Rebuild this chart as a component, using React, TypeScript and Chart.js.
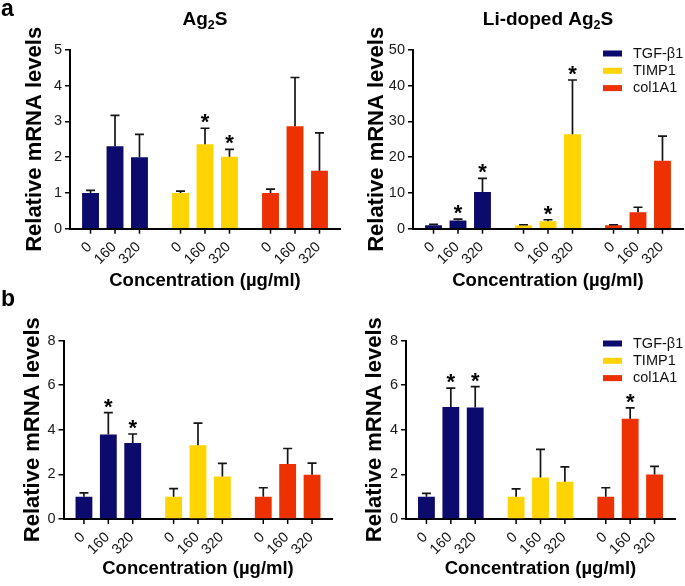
import React, { useEffect, useRef } from "react";
import { Chart, registerables } from "chart.js";

Chart.register(...registerables);

const FONT = "'Liberation Sans', Arial, Helvetica, sans-serif";
Chart.defaults.font.family = FONT;

// ---- shared categories ----
const genes = ["TGF-β1", "TIMP1", "col1A1"];
const concentrations = ["0", "160", "320"];
const geneColors = ["#0c0a6c", "#ffd400", "#ee3100"];
const xAxisTitle = "Concentration (µg/ml)";
const yAxisTitle = "Relative mRNA levels";

// ---- panel a, left: Ag2S (rows = genes, cols = concentrations) ----
const aAg2sMeans = [
  [1.0, 2.31, 2.0],
  [1.0, 2.36, 2.01],
  [1.0, 2.87, 1.62],
];
const aAg2sErrors = [
  [0.07, 0.86, 0.64],
  [0.05, 0.45, 0.21],
  [0.11, 1.36, 1.06],
];
const aAg2sSignificant = [
  [false, false, false],
  [false, true, true],
  [false, false, false],
];
const aAg2sYMax = 5;
const aAg2sYStep = 1;

// ---- panel a, right: Li-doped Ag2S ----
const aLiMeans = [
  [1.0, 2.3, 10.3],
  [1.0, 2.05, 26.4],
  [1.0, 4.6, 19.0],
];
const aLiErrors = [
  [0.2, 0.4, 3.8],
  [0.1, 0.45, 15.2],
  [0.1, 1.4, 6.9],
];
const aLiSignificant = [
  [false, true, true],
  [false, true, true],
  [false, false, false],
];
const aLiYMax = 50;
const aLiYStep = 10;

// ---- panel b, left ----
const bLeftMeans = [
  [1.0, 3.79, 3.41],
  [1.0, 3.3, 1.91],
  [1.0, 2.46, 1.98],
];
const bLeftErrors = [
  [0.17, 0.98, 0.4],
  [0.36, 1.0, 0.58],
  [0.4, 0.7, 0.52],
];
const bLeftSignificant = [
  [false, true, true],
  [false, false, false],
  [false, false, false],
];
const bLeftYMax = 8;
const bLeftYStep = 2;

// ---- panel b, right ----
const bRightMeans = [
  [1.0, 5.02, 5.0],
  [1.0, 1.86, 1.67],
  [1.0, 4.49, 2.0],
];
const bRightErrors = [
  [0.15, 0.85, 0.93],
  [0.35, 1.26, 0.67],
  [0.4, 0.49, 0.36],
];
const bRightSignificant = [
  [false, true, true],
  [false, false, false],
  [false, true, false],
];
const bRightYMax = 8;
const bRightYStep = 2;

type Frame = { left: number; top: number; width: number; height: number };
type Area = { left: number; right: number; top: number; bottom: number };

type PanelProps = {
  frame: Frame;
  area: Area;
  titleParts?: string[];
  letter?: string;
  showLegend?: boolean;
  means: number[][];
  errors: number[][];
  significant: boolean[][];
  yMax: number;
  yStep: number;
  yTitleCenter: number;
  xTitleBottom: number;
};

function Panel(props: PanelProps) {
  const ref = useRef<HTMLCanvasElement | null>(null);
  useEffect(() => {
    const {
      frame, area, titleParts, letter, showLegend, means, errors, significant,
      yMax, yStep, yTitleCenter, xTitleBottom,
    } = props;
    const canvas = ref.current;
    if (!canvas) return;

    const decorations = {
      id: "decorations",
      afterDatasetsDraw(chart: any) {
        const ctx = chart.ctx as CanvasRenderingContext2D;
        const yScale = chart.scales.y;
        const base = chart.chartArea.bottom;
        chart.data.datasets.forEach((ds: any, di: number) => {
          const meta = chart.getDatasetMeta(di);
          meta.data.forEach((bar: any, gi: number) => {
            const mean = ds.data[gi];
            const err = errors[gi][di];
            const yTop = yScale.getPixelForValue(mean + err);
            ctx.save();
            // error bar
            ctx.strokeStyle = "#151515";
            ctx.lineWidth = 1.7;
            ctx.beginPath();
            ctx.moveTo(bar.x, bar.y);
            ctx.lineTo(bar.x, yTop);
            ctx.moveTo(bar.x - 4.5, yTop);
            ctx.lineTo(bar.x + 4.5, yTop);
            ctx.stroke();
            // significance
            if (significant[gi][di]) {
              ctx.fillStyle = "#000";
              ctx.font = `bold 22px ${FONT}`;
              ctx.textAlign = "center";
              ctx.textBaseline = "alphabetic";
              ctx.fillText("*", bar.x, yTop + 1);
            }
            // x tick mark
            ctx.strokeStyle = "#000";
            ctx.lineWidth = 1.5;
            ctx.beginPath();
            ctx.moveTo(bar.x, base);
            ctx.lineTo(bar.x, base + 5);
            ctx.stroke();
            // rotated tick label
            ctx.translate(bar.x - 1, base + 16);
            ctx.rotate(-Math.PI / 4);
            ctx.font = `14.5px ${FONT}`;
            ctx.fillStyle = "#111";
            ctx.textAlign = "right";
            ctx.textBaseline = "middle";
            ctx.fillText(ds.label, 0, 0);
            ctx.restore();
          });
        });
      },
      afterDraw(chart: any) {
        const ctx = chart.ctx as CanvasRenderingContext2D;
        const ca = chart.chartArea;
        ctx.save();
        if (titleParts) {
          const mainFont = `bold 19px ${FONT}`;
          const subFont = `bold 12.5px ${FONT}`;
          let total = 0;
          const widths = titleParts.map((p, i) => {
            ctx.font = i % 2 === 1 ? subFont : mainFont;
            const w = ctx.measureText(p).width;
            total += w;
            return w;
          });
          let x = (ca.left + ca.right) / 2 - total / 2;
          ctx.fillStyle = "#000";
          ctx.textAlign = "left";
          ctx.textBaseline = "alphabetic";
          titleParts.forEach((p, i) => {
            const sub = i % 2 === 1;
            ctx.font = sub ? subFont : mainFont;
            ctx.fillText(p, x, sub ? 28.5 : 24.5);
            x += widths[i];
          });
        }
        if (letter) {
          ctx.font = `bold 23px ${FONT}`;
          ctx.fillStyle = "#000";
          ctx.textAlign = "left";
          ctx.textBaseline = "alphabetic";
          ctx.fillText(letter, 1, 15.5);
        }
        if (showLegend) {
          const lx = 261;
          const ly = 53.5;
          genes.forEach((g, i) => {
            const y = ly + i * 17.3;
            ctx.fillStyle = geneColors[i];
            ctx.fillRect(lx, y - 3, 19, 6);
            ctx.fillStyle = "#111";
            ctx.font = `14.5px ${FONT}`;
            ctx.textAlign = "left";
            ctx.textBaseline = "middle";
            ctx.fillText(g, lx + 30, y);
          });
        }
        ctx.restore();
      },
    };

    const chart = new Chart(canvas, {
      type: "bar",
      data: {
        labels: genes,
        datasets: concentrations.map((c, ci) => ({
          label: c,
          data: genes.map((_, gi) => means[gi][ci]),
          backgroundColor: geneColors,
          borderWidth: 0,
          barPercentage: 0.69,
          categoryPercentage: 0.816,
        })),
      },
      options: {
        responsive: false,
        animation: false,
        devicePixelRatio: 1,
        layout: {
          padding: {
            left: 0,
            top: area.top,
            right: frame.width - area.right,
            bottom: 0,
          },
        },
        plugins: {
          legend: { display: false },
          tooltip: { enabled: false },
          title: { display: false },
        },
        scales: {
          x: {
            type: "category",
            offset: true,
            grid: { display: false },
            ticks: { display: false },
            border: { display: true, color: "#000", width: 2 },
            title: {
              display: true,
              text: xAxisTitle,
              color: "#000",
              font: { size: 18.5, weight: "bold", family: FONT, lineHeight: 1 },
              padding: { top: 0, bottom: xTitleBottom },
            },
            afterFit: (s: any) => {
              s.height = frame.height - area.bottom;
            },
          },
          y: {
            min: 0,
            max: yMax,
            ticks: {
              stepSize: yStep,
              color: "#1a1a1a",
              font: { size: 14.5, family: FONT },
              padding: 3,
            },
            grid: {
              display: true,
              drawOnChartArea: false,
              drawTicks: true,
              tickLength: 5,
              color: "#000",
              lineWidth: 1.5,
            },
            border: { display: true, color: "#000", width: 2 },
            title: {
              display: true,
              text: yAxisTitle,
              color: "#000",
              font: { size: 22, weight: "bold", family: FONT, lineHeight: 1 },
              padding: { top: yTitleCenter - 11, bottom: 0 },
            },
            afterFit: (s: any) => {
              s.width = area.left;
            },
          },
        },
      },
      plugins: [decorations],
    } as any);
    return () => chart.destroy();
  }, []);

  const { frame } = props;
  return (
    <canvas
      ref={ref}
      width={frame.width}
      height={frame.height}
      style={{
        position: "absolute",
        left: frame.left,
        top: frame.top,
        width: frame.width,
        height: frame.height,
        display: "block",
      }}
    />
  );
}

export default function App() {
  return (
    <div
      style={{
        position: "absolute",
        left: 0,
        top: 0,
        width: 685,
        height: 586,
        background: "#fff",
        overflow: "hidden",
      }}
    >
      <Panel
        frame={{ left: 0, top: 0, width: 342, height: 290 }}
        area={{ left: 70, right: 340, top: 50, bottom: 228.7 }}
        titleParts={["Ag", "2", "S"]}
        letter="a"
        means={aAg2sMeans}
        errors={aAg2sErrors}
        significant={aAg2sSignificant}
        yMax={aAg2sYMax}
        yStep={aAg2sYStep}
        yTitleCenter={35}
        xTitleBottom={0}
      />
      <Panel
        frame={{ left: 342, top: 0, width: 343, height: 290 }}
        area={{ left: 71, right: 341, top: 50, bottom: 228.7 }}
        titleParts={["Li-doped Ag", "2", "S"]}
        showLegend
        means={aLiMeans}
        errors={aLiErrors}
        significant={aLiSignificant}
        yMax={aLiYMax}
        yStep={aLiYStep}
        yTitleCenter={35}
        xTitleBottom={0}
      />
      <Panel
        frame={{ left: 0, top: 290, width: 342, height: 296 }}
        area={{ left: 63.5, right: 332.5, top: 50.5, bottom: 229 }}
        letter="b"
        means={bLeftMeans}
        errors={bLeftErrors}
        significant={bLeftSignificant}
        yMax={bLeftYMax}
        yStep={bLeftYStep}
        yTitleCenter={33}
        xTitleBottom={8}
      />
      <Panel
        frame={{ left: 342, top: 290, width: 343, height: 296 }}
        area={{ left: 64, right: 333, top: 50.5, bottom: 229 }}
        showLegend
        means={bRightMeans}
        errors={bRightErrors}
        significant={bRightSignificant}
        yMax={bRightYMax}
        yStep={bRightYStep}
        yTitleCenter={33}
        xTitleBottom={8}
      />
    </div>
  );
}
